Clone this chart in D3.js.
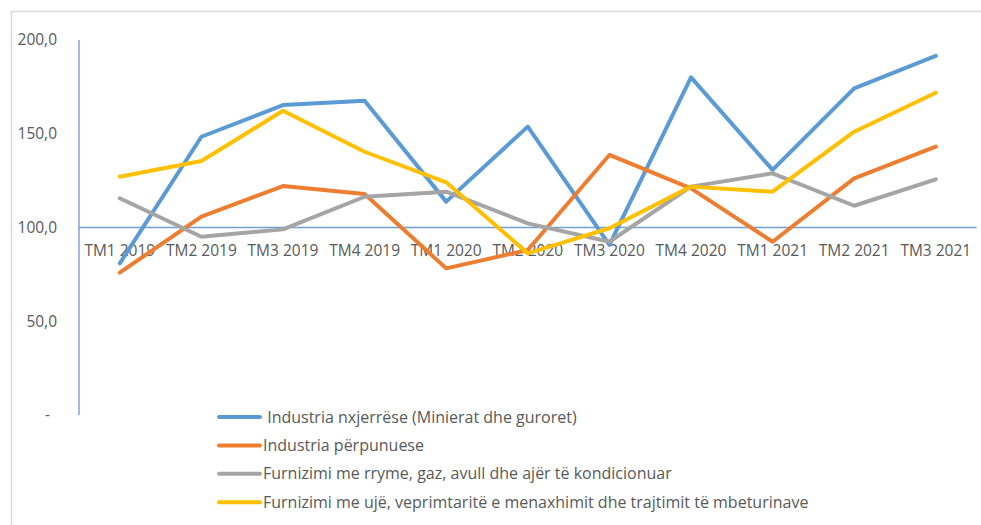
<!DOCTYPE html>
<html>
<head>
<meta charset="utf-8">
<script src="https://cdn.jsdelivr.net/npm/d3@7"></script>
<style>
  body { margin: 0; background: #fff; }
  svg text { font-family: "Open Sans", sans-serif; fill: #595959; }
</style>
</head>
<body>
<div id="chart"></div>
<script>
var categories = ["TM1 2019", "TM2 2019", "TM3 2019", "TM4 2019", "TM1 2020", "TM2 2020",
                  "TM3 2020", "TM4 2020", "TM1 2021", "TM2 2021", "TM3 2021"];
var nxjerrese  = [80.9, 148.4, 165.3, 167.6, 113.8, 153.8, 90.7, 180.1, 130.7, 174.2, 191.5];
var perpunuese = [75.9, 105.8, 122.1, 117.9, 78.2, 88.0, 138.7, 120.9, 92.4, 126.2, 143.1];
var rryme      = [115.6, 95.1, 99.0, 116.4, 119.1, 102.2, 92.4, 121.8, 128.9, 111.6, 125.7];
var uje        = [127.1, 135.5, 162.3, 140.4, 124.1, 86.2, 99.6, 121.8, 119.1, 151.1, 171.9];
var seriesNames = [
    " Industria nxjerrëse (Minierat dhe guroret)",
    "Industria përpunuese",
    "Furnizimi me rryme, gaz, avull dhe ajër të kondicionuar",
    "Furnizimi me ujë, veprimtaritë e menaxhimit dhe trajtimit të mbeturinave"
];
var yTicks = [0, 50, 100, 150, 200];

var width = 981, height = 525;
var colors = ["#5B9BD5", "#ED7D31", "#A5A5A5", "#FFC000"];
var series = [nxjerrese, perpunuese, rryme, uje];

var svg = d3.select("#chart").append("svg").attr("width", width).attr("height", height);

// chart border
svg.append("path")
    .attr("d", "M11.5," + height + "V11.5H" + width)
    .attr("fill", "none")
    .attr("stroke", "#d9d9d9")
    .attr("stroke-width", 1.5);

var x = d3.scaleBand().domain(categories).range([79, 976.6]);
var y = d3.scaleLinear().domain([0, 200]).range([415, 40]);

// y axis
svg.append("line")
    .attr("x1", 79).attr("x2", 79)
    .attr("y1", y(0)).attr("y2", y(200))
    .attr("stroke", "#7FA7D8").attr("stroke-width", 1.5);

svg.append("g").selectAll("text")
    .data(yTicks)
    .enter().append("text")
    .attr("x", function(d) { return d == 0 ? 50 : 57; })
    .attr("y", function(d) { return y(d); })
    .attr("dy", "0.35em")
    .attr("text-anchor", "end")
    .style("font-size", "15.5px")
    .text(function(d) { return d == 0 ? "-" : d3.format(".1f")(d).replace(".", ","); });

// horizontal axis crossing at 100
svg.append("line")
    .attr("x1", 79).attr("x2", 976.6)
    .attr("y1", y(100)).attr("y2", y(100))
    .attr("stroke", "#6FA0D6").attr("stroke-width", 1.5);

svg.append("g").selectAll("text")
    .data(categories)
    .enter().append("text")
    .attr("x", function(d) { return x(d) + x.bandwidth() / 2; })
    .attr("y", y(100) + 28)
    .attr("text-anchor", "middle")
    .style("font-size", "15.5px")
    .text(function(d) { return d; });

var line = d3.line()
    .x(function(d, i) { return x(categories[i]) + x.bandwidth() / 2; })
    .y(function(d) { return y(d); });

svg.append("g").selectAll("path")
    .data(series)
    .enter().append("path")
    .attr("d", line)
    .attr("fill", "none")
    .attr("stroke", function(d, i) { return colors[i]; })
    .attr("stroke-width", 4)
    .attr("stroke-linejoin", "round")
    .attr("stroke-linecap", "round");

// legend
var legend = svg.append("g").selectAll("g")
    .data(seriesNames)
    .enter().append("g")
    .attr("transform", function(d, i) { return "translate(219," + (417 + i * 28.4) + ")"; });

legend.append("line")
    .attr("x1", 0).attr("x2", 41)
    .attr("stroke", function(d, i) { return colors[i]; })
    .attr("stroke-width", 4)
    .attr("stroke-linecap", "round");

legend.append("text")
    .attr("x", 44)
    .attr("dy", "0.35em")
    .style("font-size", "16px")
    .style("white-space", "pre")
    .text(function(d) { return d; });
</script>
</body>
</html>
